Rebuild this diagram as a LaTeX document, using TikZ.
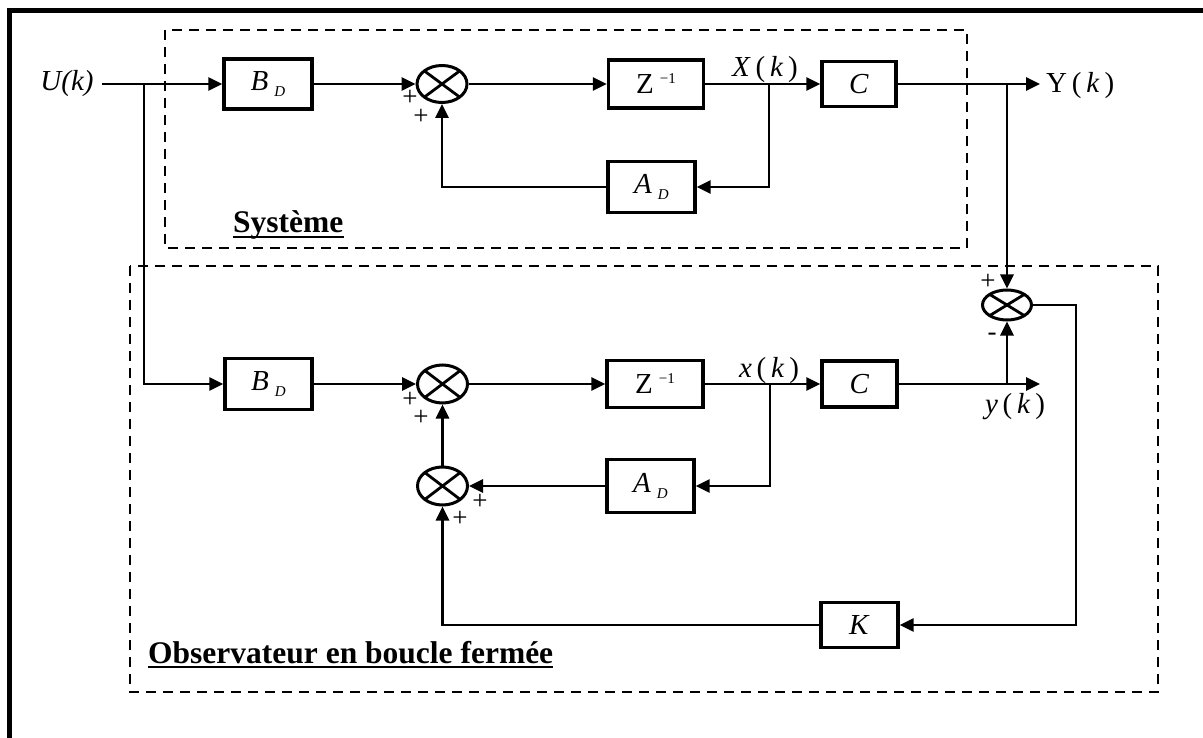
\documentclass[tikz,border=0pt]{standalone}
\usepackage{fontspec}
\setmainfont{Liberation Serif}
\usetikzlibrary{arrows.meta,shapes.geometric}
\newcommand{\sbs}[1]{\raisebox{-6pt}{\fontsize{15}{15}\selectfont\textit{#1}}}
\newcommand{\labfont}{\fontsize{29}{32}\selectfont}
\newcommand{\supm}{\raisebox{10pt}{\fontsize{15}{15}\selectfont −1}}
\begin{document}
\begin{tikzpicture}[x=1pt,y=-1pt,
  blk/.style={draw,line width=3.2pt,inner sep=0pt,font=\labfont},
  sumnode/.style={draw,ellipse,line width=3pt,minimum width=50pt,minimum height=37pt,inner sep=0pt,
    path picture={\draw[line width=2.8pt] (path picture bounding box.north east) -- (path picture bounding box.south west)
      (path picture bounding box.north west) -- (path picture bounding box.south east);}},
  con/.style={line width=2.8pt},
  arr/.style={con,-{Triangle[length=14pt,width=13pt]}},
  dsh/.style={line width=2.9pt,dash pattern=on 10pt off 7pt},
  lbl/.style={inner sep=0pt,font=\labfont},
  pm/.style={inner sep=0pt,font=\fontsize{27}{27}\selectfont},
  ttl/.style={inner sep=0pt,anchor=base west,font=\bfseries\fontsize{31.5}{32}\selectfont}]
\useasboundingbox (0,0) rectangle (1203,738);
% outer frame
\draw[line width=5pt] (9.5,745) -- (9.5,10.5) -- (1210,10.5);
% dashed frames
\draw[dsh] (165,30) rectangle (967,248);
\draw[dsh] (130,266) rectangle (1158,692);
% titles
\node[ttl] (sys) at (233,233) {Système};
\draw[line width=2.4pt] ([yshift=-4pt]sys.base west) -- ([yshift=-4pt]sys.base east);
\node[ttl] (obs) at (148,663) {Observateur en boucle fermée};
\draw[line width=2.4pt] ([yshift=-4pt]obs.base west) -- ([yshift=-4pt]obs.base east);
% top row
\node[lbl] (u) at (67,84) {\textit{U(k)}};
\node[blk,minimum width=88pt,minimum height=50pt] (bd1) at (268,84) {\textit{B}\hspace{6pt}\sbs{D}};
\node[sumnode] (s1) at (442,84) {};
\node[blk,minimum width=95pt,minimum height=48pt] (z1) at (656,84) {Z\hspace{6pt}\supm};
\node[blk,minimum width=87pt,minimum height=51pt] (ad1) at (651.5,187) {\textit{A}\hspace{6pt}\sbs{D}};
\node[blk,minimum width=74pt,minimum height=45pt] (c1) at (859,84) {\textit{C}};
\node[lbl] (X) at (765,70) {\textit{X}\,(\,\textit{k}\,)};
\node[lbl,anchor=west] (Y) at (1046,86) {Y\,(\,\textit{k}\,)};
\coordinate (b0) at (144,84);
\coordinate (x1) at (769,84);
\coordinate (y1) at (1007,84);
\coordinate (yo1) at (1040,84);
% observer
\node[sumnode,minimum width=49pt,minimum height=30pt] (s4) at (1007,305) {};
\node[blk,minimum width=87pt,minimum height=51pt] (bd2) at (268.5,384) {\textit{B}\hspace{6pt}\sbs{D}};
\node[sumnode,minimum height=38pt] (s2) at (442.5,384) {};
\node[blk,minimum width=96pt,minimum height=47pt] (z2) at (655,384) {Z\hspace{6pt}\supm};
\node[blk,minimum width=75pt,minimum height=46pt] (c2) at (859.5,384) {\textit{C}};
\node[blk,minimum width=87pt,minimum height=53pt] (ad2) at (650.5,486) {\textit{A}\hspace{6pt}\sbs{D}};
\node[sumnode,minimum height=38pt] (s3) at (442.5,486) {};
\node[blk,minimum width=77pt,minimum height=45pt] (k) at (859.5,625) {\textit{K}};
\node[lbl] (xs) at (769,371) {\textit{x}\,(\,\textit{k}\,)};
\node[lbl] (ys) at (1015,407) {\textit{y}\,(\,\textit{k}\,)};
\coordinate (x2) at (770,384);
\coordinate (y2) at (1007,384);
\coordinate (yo2) at (1040,384);
\coordinate (r) at (1076,305);
% signs
\node[pm] (p1) at (410,98) {+};
\node[pm] (p2) at (421,117) {+};
\node[pm] (p3) at (410,400) {+};
\node[pm] (p4) at (421,418) {+};
\node[pm] (p5) at (460,519) {+};
\node[pm] (p6) at (480,502) {+};
\node[pm] (p7) at (988,282) {+};
\node[pm] (p8) at (992,337) {-};
% connectors top
\draw[arr] ([xshift=8pt]u.east) -- (bd1.west);
\draw[arr] (bd1.east) -- (s1.west);
\draw[arr] (s1.east) -- (z1.west);
\draw[arr] (z1.east) -- (c1.west);
\draw[arr] (x1) |- (ad1.east);
\draw[arr] (ad1.west) -| (s1.south);
\draw[arr] (c1.east) -- (yo1);
\draw[arr] (y1) -- (s4.north);
% connectors observer
\draw[arr] (b0) |- (bd2.west);
\draw[arr] (bd2.east) -- (s2.west);
\draw[arr] (s2.east) -- (z2.west);
\draw[arr] (z2.east) -- (c2.west);
\draw[arr] (x2) |- (ad2.east);
\draw[arr] (ad2.west) -- (s3.east);
\draw[arr] (s3.north) -- (s2.south);
\draw[arr] (c2.east) -- (yo2);
\draw[arr] (y2) -- (s4.south);
\draw[arr] (s4.east) -- (r) |- (k.east);
\draw[arr] (k.west) -| (s3.south);
\end{tikzpicture}
\end{document}
